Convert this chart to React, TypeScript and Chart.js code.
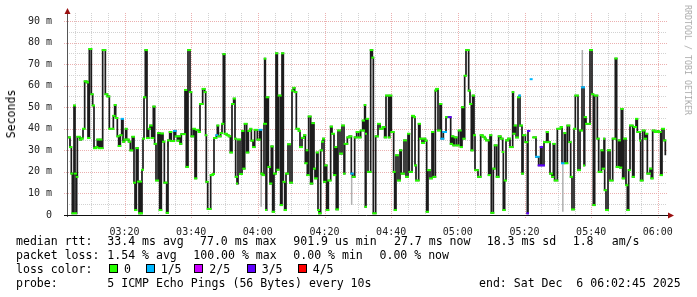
import React, { useEffect, useRef } from "react";
import { Chart, registerables } from "chart.js";

Chart.register(...registerables);

// minutes after 03:00 of each median-RTT step
const timeMin = [
  2.75, 3.65, 4.05, 4.35, 4.85, 5.15, 5.45, 5.65, 5.85, 6.55,
  7.05, 7.55, 8.05, 8.65, 9.05, 9.45, 10.05, 10.45, 10.85, 11.45,
  11.85, 12.25, 12.65, 13.05, 13.45, 14.25, 14.85, 15.45, 16.65, 17.05,
  17.35, 17.85, 18.25, 18.75, 19.15, 19.55, 19.95, 20.35, 20.65, 21.25,
  21.75, 22.35, 22.85, 23.15, 23.55, 24.05, 24.35, 24.75, 24.95, 25.25,
  25.55, 25.85, 26.25, 26.75, 27.25, 27.65, 28.15, 28.65, 29.05, 29.45,
  30.05, 30.55, 31.05, 31.55, 31.95, 32.65, 33.05, 33.55, 34.05, 34.85,
  35.35, 35.85, 36.25, 36.65, 37.05, 38.15, 38.55, 39.05, 39.65, 40.05,
  40.65, 41.15, 41.55, 42.25, 42.65, 43.45, 44.05, 44.35, 44.55, 44.95,
  45.85, 46.45, 46.85, 47.55, 47.85, 48.15, 48.85, 49.25, 49.65, 50.05,
  50.65, 51.25, 51.75, 52.25, 52.75, 53.15, 53.35, 53.75, 54.05, 54.65,
  55.25, 55.65, 56.05, 56.65, 57.15, 57.75, 58.05, 58.55, 59.05, 59.85,
  60.55, 61.05, 61.45, 61.85, 62.05, 62.25, 62.45, 62.65, 63.15, 63.65,
  64.05, 64.45, 64.85, 65.45, 65.85, 66.25, 66.85, 67.25, 67.65, 68.05,
  68.45, 69.05, 69.65, 70.25, 70.65, 71.05, 71.55, 72.25, 72.65, 73.25,
  73.85, 74.25, 74.65, 74.85, 75.25, 75.85, 76.35, 76.85, 77.15, 77.65,
  78.05, 78.35, 78.85, 79.25, 79.55, 79.85, 80.25, 80.65, 81.15, 81.85,
  82.25, 82.85, 83.25, 83.55, 84.05, 84.65, 85.25, 85.85, 86.05, 86.85,
  87.45, 88.05, 88.45, 89.05, 89.65, 90.25, 90.85, 91.45, 91.85, 92.05,
  92.25, 92.45, 92.65, 93.05, 93.85, 94.35, 94.65, 95.35, 96.05, 96.65,
  97.45, 98.05, 98.45, 99.25, 99.55, 100.05, 100.75, 101.05, 101.45, 102.05,
  102.65, 103.05, 103.85, 104.45, 105.05, 105.45, 106.25, 106.85, 107.15, 107.45,
  108.25, 108.65, 109.25, 109.85, 110.25, 110.65, 111.05, 111.65, 112.25, 112.65,
  113.25, 113.55, 114.05, 114.65, 115.05, 115.65, 116.45, 117.25, 117.85, 118.25,
  118.65, 119.05, 119.65, 120.25, 120.85, 121.25, 121.65, 122.05, 122.45, 123.25,
  123.65, 124.05, 124.45, 124.85, 125.15, 126.05, 126.85, 127.45, 128.05, 128.45,
  129.25, 129.65, 130.05, 130.65, 131.05, 131.65, 132.25, 132.85, 133.45, 133.65,
  134.05, 134.45, 135.05, 135.65, 136.45, 136.65, 137.05, 137.45, 138.05, 138.45,
  138.65, 139.25, 139.55, 140.25, 140.85, 141.05, 141.45, 141.85, 142.15, 142.55,
  143.45, 144.25, 144.85, 145.25, 145.85, 146.65, 147.05, 147.65, 148.25, 148.65,
  149.05, 149.85, 150.85, 151.25, 151.95, 152.25, 152.85, 153.45, 153.85, 154.25,
  154.85, 155.25, 156.05, 156.65, 157.25, 157.85, 158.05, 158.45, 159.65, 160.25,
  160.65, 161.05, 161.85, 162.25, 163.05, 163.45, 163.85, 164.05, 164.45, 165.05,
  165.65, 166.45, 167.25, 167.65, 168.25, 168.65, 169.05, 169.45, 169.85, 170.45,
  170.85, 171.25, 171.65, 172.45, 172.85, 173.45, 173.85, 174.65, 174.85, 175.45,
  176.05, 176.45, 176.85, 177.65, 178.05, 178.45, 179.05, 179.85, 180.25, 180.85,
  181.25, 181.85, 182.25,
];

// median RTT in ms (null = no data)
const rttMs = [
  36, 31.5, 19.2, 0.8, 50.8, 19.2, 0.8, 17.7, 36.3, 35,
  35.5, 40, 62, 61.5, 35.7, 77, 56, 50.8, 31, 31.5,
  35, 31, 35, 31, 76.5, 56, 55, 40, 46, 51,
  45, 36.5, 32, 37, 44.6, 34, 35, 40, 35, 34,
  30, 36.3, 15, 2.3, 31, 15.5, 0.8, 15.5, 0.8, 21,
  35.4, 54.6, 76.5, 35.7, 40, 41.5, 35.7, 50.3, 33, 16,
  38, 2.3, 37.8, 34, 15, 1, 34.6, 38.5, 34.3, 39,
  36.5, 34.5, 36.5, 33, 37.5, 58, 22.3, 76.5, 57, 36.5,
  40, 17, 39.5, 38.5, 51.5, 58.5, 57, 37, 15.4, 2.8,
  18.5, 19, 35.7, 37, 41.5, 36.5, 38, 42.3, 74.6, 37.7,
  37, 36.5, 29, 51.5, 54, 35.4, 17.7, 14.6, 35, 19,
  39, 21.5, 42.3, 29, 39, 40, 34.5, 31.5, 39.5, 35,
  39.5, 19.2, 18.5, 42.3, 72.5, 42.3, 2.3, 54.6, 22.3, 14.6,
  31.8, 1.5, 19.2, 75, 21, 55.4, 4.6, 75, 15.4, 2.3,
  19.2, 32.8, 15, 57.7, 59, 57, 40, 39, 31.5, 35.8,
  37, 24, 30, 18.5, 45.7, 14.6, 42.6, 21.5, 17, 29,
  2.3, 0.8, 30, 34, 35.4, 15.4, 23, 2.3, 16, 41,
  37.7, 18.5, 31.5, 2.6, 39.2, 28.5, 41.5, 19.2, 33, 36,
  36.5, 19.2, 17.7, 36, 38.5, 36, 39.2, 43.8, 39.2, 51,
  3.8, 37.7, 44.6, 20, 76.5, 73, 0.8, 36.5, 42.3, 40,
  40.8, 36, 55.4, 36, 55.4, 38.5, 20, 2.3, 27.7, 16,
  30, 19.2, 34.6, 17.7, 37.7, 20, 46, 45.4, 23, 16,
  42.3, 35.4, 33.4, 35.4, 34.5, 1.5, 20.8, 17, 38.5, 17.7,
  57.7, 58.5, 39.2, 51.5, 35.4, 38.5, 45.4, 45.4, 33, 36.5,
  32.3, 36, 32.3, 39.2, 31.5, 50, 35.4, 64.6, 76.5, 57.7,
  51.5, 30, 55.4, 37, 20.8, 17.7, 37, 36.3, 35.4, 34.6,
  18.5, 37, 1, 21.5, 32.3, 17.7, 36.5, 35.4, 29.2, 2.3,
  16, 34.6, 35.4, 31.5, 57, 37.7, 41.5, 36, 54.6, 55.4,
  41.5, 19.2, 37, 33.8, 0.8, 39, null, 63, null, 36,
  27, 23, 31.5, 23, 33.8, 38.5, 33.8, 19.2, 17.7, 33,
  16, 40, 40.8, 24, 38, 24, 41.5, 33.8, 17.7, 2.6,
  40, 55.4, 20.8, 39.2, 59.2, 23, 45.4, 42.3, 76.5, 56,
  4.6, 55.4, 35.4, 20, 30, 21.5, 35.4, 11.5, 2.3, 30,
  16, 35.4, 72.6, 22.3, 34.6, 22, 49.2, 17, 35.4, 13.8,
  2.3, 20.8, 41.5, 17.7, 40.8, 44.6, 38.5, 34.6, 16, 39.2,
  35.4, 37.7, 19.2, 21.5, 17, 39.2, 38.5, 38.9, 38.5, 18.5,
  40, 34.6, 27.7,
];

// steps with packet loss (lost pings out of 5)
const lossTimes = [19.15, 34.85, 47.55, 60.55, 88.05, 115.05, 115.65, 117.25, 138.45, 140.85, 141.05, 141.85, 143.45, 144.25, 144.85, 145.25, 151.25, 157.25];
const lossCounts = [1, 1, 1, 1, 1, 1, 1, 3, 1, 3, 3, 1, 1, 3, 3, 3, 1, 1];

// light smoke spikes
const smokeTimes = [33.0, 61.0, 88.15, 151.5, 157.35];
const smokeLow = [31.5, 3.8, 4.6, 1.5, 59.2];
const smokeHigh = [34.6, 19, 19.2, 24, 76.5];

const xTickMinutes = [20, 40, 60, 80, 100, 120, 140, 160, 180];
const xTickLabels = ["03:20", "03:40", "04:00", "04:20", "04:40", "05:00", "05:20", "05:40", "06:00"];
const yTickValues = [0, 10, 20, 30, 40, 50, 60, 70, 80, 90];
const yTickLabels = ["0", "10 m", "20 m", "30 m", "40 m", "50 m", "60 m", "70 m", "80 m", "90 m"];

const lossColors = ["#26ff00", "#00b8ff", "#cc00ff", "#5f00ff", "#ff0000"];
const lossLegendLabels = ["0", "1/5", "2/5", "3/5", "4/5"];

const rttLegend = ["median rtt:", "33.4 ms avg", "77.0 ms max", "901.9 us min", "27.7 ms now", "18.3 ms sd", "1.8", "am/s"];
const lossLegend = ["packet loss:", "1.54 % avg", "100.00 % max", "0.00 % min", "0.00 % now"];
const probeLegend = ["probe:", "5 ICMP Echo Pings (56 Bytes) every 10s", "end: Sat Dec  6 06:02:45 2025"];

const X_MIN = 2.75;
const X_MAX = 182.75;
const Y_MAX = 93.7;

const MONO = "'DejaVu Sans Mono', monospace";

const lossAt = (t: number) => {
  const k = lossTimes.indexOf(t);
  return k >= 0 ? lossCounts[k] : 0;
};

const gridPlugin = {
  id: "rrdGrid",
  beforeDatasetsDraw(chart: any) {
    const { ctx, chartArea: a, scales } = chart;
    const xs = scales.x;
    const ys = scales.y;
    ctx.save();
    ctx.lineWidth = 1;
    ctx.setLineDash([1, 1]);
    const vline = (m: number, color: string, ext: number) => {
      const px = Math.round(xs.getPixelForValue(m)) + 0.5;
      ctx.strokeStyle = color;
      ctx.beginPath();
      ctx.moveTo(px, a.top);
      ctx.lineTo(px, a.bottom + ext);
      ctx.stroke();
    };
    const hline = (v: number, color: string, ext: number) => {
      const py = Math.round(ys.getPixelForValue(v)) + 0.5;
      ctx.strokeStyle = color;
      ctx.beginPath();
      ctx.moveTo(a.left - ext, py);
      ctx.lineTo(a.right, py);
      ctx.stroke();
    };
    for (let m = 5; m < X_MAX; m += 5) if (m > X_MIN && m % 20 !== 0) vline(m, "#d2d2d2", 0);
    for (let v = 5; v < Y_MAX; v += 5) if (v % 10 !== 0) hline(v, "#d2d2d2", 0);
    for (let m = 20; m < X_MAX; m += 20) vline(m, "#ebb0b0", 3);
    for (let v = 10; v < Y_MAX; v += 10) hline(v, "#ebb0b0", 3);
    ctx.restore();
  },
  afterDatasetsDraw(chart: any) {
    const { ctx, chartArea: a } = chart;
    ctx.save();
    ctx.setLineDash([]);
    ctx.lineWidth = 1;
    ctx.strokeStyle = "#555";
    ctx.beginPath();
    ctx.moveTo(a.left + 0.5, a.bottom + 2);
    ctx.lineTo(a.left + 0.5, a.top);
    ctx.stroke();
    ctx.strokeStyle = "#111";
    ctx.beginPath();
    ctx.moveTo(a.left - 3, a.bottom + 0.5);
    ctx.lineTo(a.right + 2, a.bottom + 0.5);
    ctx.stroke();
    ctx.fillStyle = "#9a1010";
    ctx.beginPath();
    ctx.moveTo(a.left + 0.5, a.top - 5);
    ctx.lineTo(a.left - 2.5, a.top + 1);
    ctx.lineTo(a.left + 3.5, a.top + 1);
    ctx.closePath();
    ctx.fill();
    ctx.beginPath();
    ctx.moveTo(a.right + 7, a.bottom + 0.5);
    ctx.lineTo(a.right + 1, a.bottom - 2.5);
    ctx.lineTo(a.right + 1, a.bottom + 3.5);
    ctx.closePath();
    ctx.fill();
    ctx.restore();
  },
};

export default function App() {
  const canvasRef = useRef<HTMLCanvasElement | null>(null);

  useEffect(() => {
    const canvas = canvasRef.current;
    if (!canvas) return;

    const medianData = timeMin.map((t, i) => ({ x: t, y: rttMs[i] }));

    const levelData: any[] = [];
    const levelLoss: number[] = [];
    for (let i = 0; i < timeMin.length - 1; i++) {
      const v = rttMs[i];
      if (v === null || v === undefined) continue;
      const l = lossAt(timeMin[i]);
      levelData.push({ x: timeMin[i], y: v }, { x: timeMin[i + 1], y: v }, { x: timeMin[i + 1], y: null });
      levelLoss.push(l, l, l);
    }

    const smokeData: any[] = [];
    smokeTimes.forEach((t, i) => {
      smokeData.push({ x: t, y: smokeLow[i] }, { x: t, y: smokeHigh[i] }, { x: t, y: null });
    });

    const chart = new Chart(canvas, {
      type: "line",
      data: {
        datasets: [
          {
            label: "levels",
            data: levelData,
            order: 0,
            borderColor: lossColors[0],
            borderWidth: 2,
            borderCapStyle: "square",
            pointRadius: 0,
            spanGaps: false,
            segment: {
              borderColor: (ctx: any) => lossColors[levelLoss[ctx.p0DataIndex] || 0],
            },
          } as any,
          {
            label: "median",
            data: medianData,
            order: 1,
            stepped: true,
            borderColor: "#1c1c1c",
            borderWidth: 1.7,
            pointRadius: 0,
            spanGaps: false,
          } as any,
          {
            label: "smoke",
            data: smokeData,
            order: 2,
            borderColor: "#b0b0b0",
            borderWidth: 1.5,
            pointRadius: 0,
            spanGaps: false,
          } as any,
        ],
      },
      options: {
        responsive: false,
        animation: false,
        events: [],
        layout: { padding: { top: 12, right: 30, left: 0, bottom: 0 } },
        plugins: { legend: { display: false }, tooltip: { enabled: false } },
        scales: {
          x: {
            type: "linear",
            min: X_MIN,
            max: X_MAX,
            grid: { display: false },
            border: { display: false },
            afterBuildTicks: (s: any) => {
              s.ticks = xTickMinutes.map((v) => ({ value: v }));
            },
            afterFit: (s: any) => {
              s.height = 82;
            },
            ticks: {
              autoSkip: false,
              maxRotation: 0,
              minRotation: 0,
              padding: 3,
              color: "#222",
              font: { family: MONO, size: 10 },
              callback: (v: any) => xTickLabels[xTickMinutes.indexOf(Number(v))] ?? "",
            },
          },
          y: {
            type: "linear",
            min: 0,
            max: Y_MAX,
            grid: { display: false },
            border: { display: false },
            afterBuildTicks: (s: any) => {
              s.ticks = yTickValues.map((v) => ({ value: v }));
            },
            afterFit: (s: any) => {
              s.width = 67;
            },
            ticks: {
              autoSkip: false,
              padding: 7,
              color: "#222",
              font: { family: MONO, size: 10 },
              callback: (v: any) => yTickLabels[yTickValues.indexOf(Number(v))] ?? "",
            },
          },
        },
      } as any,
      plugins: [gridPlugin],
    });

    return () => chart.destroy();
  }, []);

  const rttX = [16, 107.3, 200, 293.3, 394, 486.7, 572.7, 611.7];
  const lossX = [16, 107.3, 193.3, 293.3, 379.5];
  const probeX = [16, 107.3, 479];
  const rowTop = [234, 248, 262, 276];
  const boxX = [109, 146, 194, 247, 298];
  const boxLabelX = [124, 160.7, 209.3, 261.7, 312.7];

  const textStyle = (x: number, top: number): React.CSSProperties => ({
    position: "absolute",
    left: x,
    top,
    whiteSpace: "pre",
    lineHeight: "14px",
  });

  return (
    <div
      style={{
        position: "absolute",
        left: 0,
        top: 0,
        width: 697,
        height: 297,
        background: "#fff",
        overflow: "hidden",
        fontFamily: MONO,
        fontSize: "11.55px",
        color: "#000",
      }}
    >
      <canvas ref={canvasRef} width={697} height={297} style={{ position: "absolute", left: 0, top: 0 }} />
      <div
        style={{
          position: "absolute",
          left: 10.8,
          top: 113.7,
          transform: "translate(-50%, -50%) rotate(-90deg)",
          whiteSpace: "pre",
          lineHeight: "14px",
        }}
      >
        Seconds
      </div>
      <div
        style={{
          position: "absolute",
          left: 688,
          top: 60,
          transform: "translate(-50%, -50%) rotate(90deg)",
          whiteSpace: "pre",
          fontSize: "8.3px",
          lineHeight: "10px",
          color: "#ababab",
        }}
      >
        RRDTOOL / TOBI OETIKER
      </div>
      {rttLegend.map((t, i) => (
        <div key={"r" + i} style={textStyle(rttX[i], rowTop[0])}>{t}</div>
      ))}
      {lossLegend.map((t, i) => (
        <div key={"l" + i} style={textStyle(lossX[i], rowTop[1])}>{t}</div>
      ))}
      <div style={textStyle(16, rowTop[2])}>loss color:</div>
      {lossLegendLabels.map((t, i) => (
        <React.Fragment key={"c" + i}>
          <div
            style={{
              position: "absolute",
              left: boxX[i],
              top: 264,
              width: 7,
              height: 7,
              border: "1px solid #000",
              background: lossColors[i],
            }}
          />
          <div style={textStyle(boxLabelX[i], rowTop[2])}>{t}</div>
        </React.Fragment>
      ))}
      {probeLegend.map((t, i) => (
        <div key={"p" + i} style={textStyle(probeX[i], rowTop[3])}>{t}</div>
      ))}
    </div>
  );
}
